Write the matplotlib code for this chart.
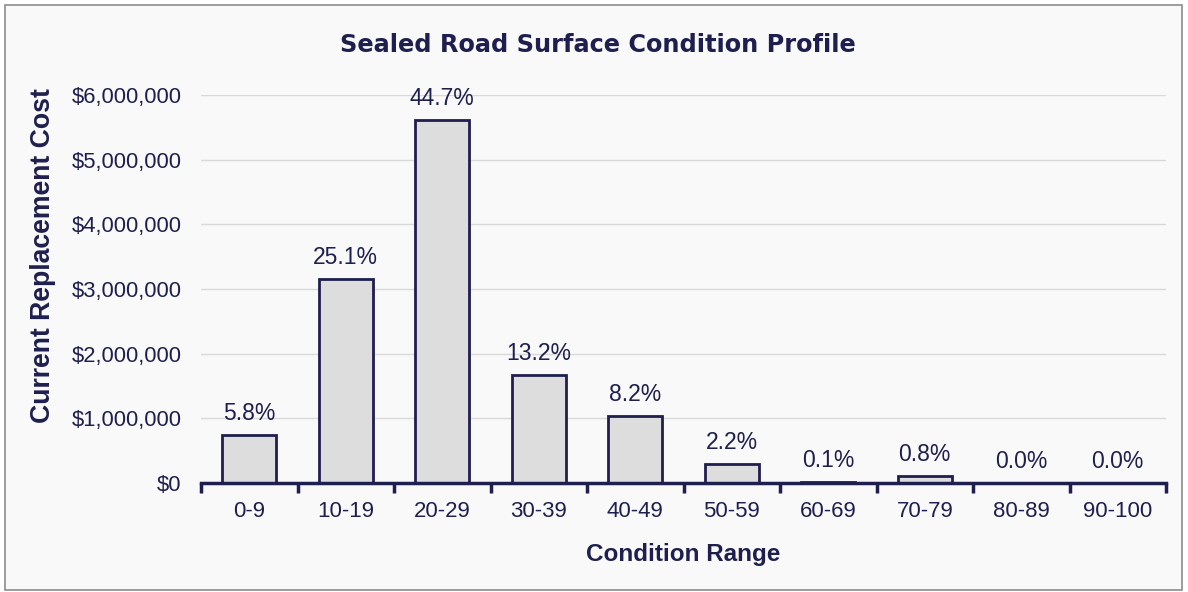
import numpy as np
import matplotlib
matplotlib.use('Agg')
import matplotlib.pyplot as plt
from matplotlib.patches import Rectangle
from matplotlib.ticker import FuncFormatter

# condition profile data
ranges = ['0-9', '10-19', '20-29', '30-39', '40-49', '50-59', '60-69', '70-79', '80-89', '90-100']
cost = [740000, 3160000, 5620000, 1670000, 1035000, 300000, 18000, 115000, 0, 0]
pct_labels = ['5.8%', '25.1%', '44.7%', '13.2%', '8.2%', '2.2%', '0.1%', '0.8%', '0.0%', '0.0%']

navy = '#1f1f4f'
bg = '#f9f9f9'

fig = plt.figure(figsize=(11.88, 5.92), dpi=100)
fig.patch.set_facecolor('white')
fig.patches.append(Rectangle((5/1188, 2/592), 1177/1188, 585/592, transform=fig.transFigure,
                             facecolor=bg, edgecolor='#8c8c8c', linewidth=1.2, zorder=-10))

ax = fig.add_axes([201/1188, 1-483/592, 965/1188, 388/592])
ax.set_facecolor(bg)
ax.patch.set_alpha(0)

x = np.arange(len(ranges))
bars = ax.bar(x, cost, width=0.56, color='#dddddd', edgecolor=navy, linewidth=2, zorder=3)

for b, lab in zip(bars, pct_labels):
    ax.annotate(lab, (b.get_x() + b.get_width()/2, b.get_height()), xytext=(0, 7),
                textcoords='offset points', ha='center', va='bottom',
                fontsize=16.5, color=navy, family='Liberation Sans')

ax.set_xlim(-0.5, len(ranges) - 0.5)
ax.set_ylim(0, 6000000)
ax.set_yticks(np.arange(0, 6000001, 1000000))
ax.yaxis.set_major_formatter(FuncFormatter(lambda v, p: '${:,.0f}'.format(v)))
ax.grid(axis='y', color='#d9d9d9', linewidth=1, zorder=0)

ax.set_xticks(np.arange(-0.5, len(ranges), 1.0))
ax.set_xticklabels([])
ax.set_xticks(x, minor=True)
ax.set_xticklabels(ranges, minor=True)
ax.tick_params(axis='x', which='major', length=7, width=2.5, color=navy)
ax.tick_params(axis='x', which='minor', length=0, pad=13, labelsize=16, labelcolor=navy)
ax.tick_params(axis='y', length=0, pad=14, labelsize=15.8, labelcolor=navy)
for lab in ax.get_xticklabels(minor=True) + ax.get_yticklabels():
    lab.set_family('Liberation Sans')

for s in ['top', 'right', 'left']:
    ax.spines[s].set_visible(False)
ax.spines['bottom'].set_color(navy)
ax.spines['bottom'].set_linewidth(2.5)
ax.spines['bottom'].set_zorder(4)

ax.set_xlabel('Condition Range', fontsize=17.5, fontweight='bold', color=navy,
              family='Liberation Sans', labelpad=15)
ax.set_ylabel('Current Replacement Cost', fontsize=19.2, fontweight='bold', color=navy,
              family='Liberation Sans', va='center')
ax.yaxis.set_label_coords((43 - 201) / 965, (483 - 256) / 388)

fig.text(598/1188, 1-45/592, 'Sealed Road Surface Condition Profile', ha='center', va='center',
         fontsize=17.3, fontweight='bold', color=navy, family='DejaVu Sans')

fig.savefig('out.png', dpi=100, facecolor=fig.get_facecolor())
